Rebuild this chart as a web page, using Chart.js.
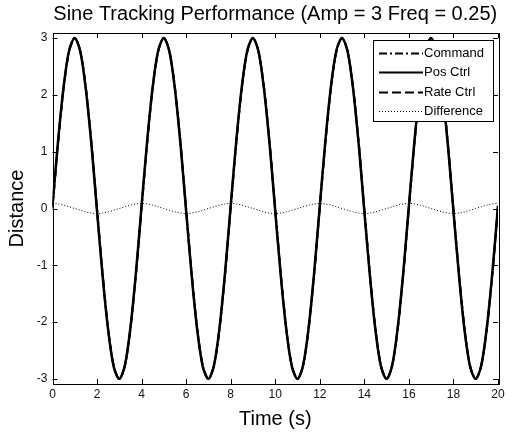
<!DOCTYPE html>
<html>
<head>
<meta charset="utf-8">
<script src="https://cdn.jsdelivr.net/npm/chart.js@4.4.1/dist/chart.umd.min.js"></script>
<style>
  html, body { margin: 0; padding: 0; background: #fff; }
  #wrap { width: 506px; height: 433px; }
</style>
</head>
<body>
<div id="wrap"><canvas id="c" width="506" height="433"></canvas></div>
<script>
// Sample times (s)
const time = [
  0, 0.25, 0.5, 0.75, 1, 1.25, 1.5, 1.75, 2, 2.25, 2.5, 2.75, 3, 3.25, 3.5, 3.75,
  4, 4.25, 4.5, 4.75, 5, 5.25, 5.5, 5.75, 6, 6.25, 6.5, 6.75, 7, 7.25, 7.5, 7.75,
  8, 8.25, 8.5, 8.75, 9, 9.25, 9.5, 9.75, 10, 10.25, 10.5, 10.75, 11, 11.25, 11.5, 11.75,
  12, 12.25, 12.5, 12.75, 13, 13.25, 13.5, 13.75, 14, 14.25, 14.5, 14.75, 15, 15.25, 15.5, 15.75,
  16, 16.25, 16.5, 16.75, 17, 17.25, 17.5, 17.75, 18, 18.25, 18.5, 18.75, 19, 19.25, 19.5, 19.75,
  20
];

// Commanded position
const command = [
  0, 1.15, 2.12, 2.77, 3, 2.77, 2.12, 1.15, 0, -1.15, -2.12, -2.77, -3, -2.77, -2.12, -1.15,
  0, 1.15, 2.12, 2.77, 3, 2.77, 2.12, 1.15, 0, -1.15, -2.12, -2.77, -3, -2.77, -2.12, -1.15,
  0, 1.15, 2.12, 2.77, 3, 2.77, 2.12, 1.15, 0, -1.15, -2.12, -2.77, -3, -2.77, -2.12, -1.15,
  0, 1.15, 2.12, 2.77, 3, 2.77, 2.12, 1.15, 0, -1.15, -2.12, -2.77, -3, -2.77, -2.12, -1.15,
  0, 1.15, 2.12, 2.77, 3, 2.77, 2.12, 1.15, 0, -1.15, -2.12, -2.77, -3, -2.77, -2.12, -1.15,
  0
];

// Position controller response
const posCtrl = [
  0.05, 1.19, 2.15, 2.79, 3, 2.76, 2.09, 1.11, -0.05, -1.19, -2.15, -2.79, -3, -2.76, -2.09, -1.11,
  0.05, 1.19, 2.15, 2.79, 3, 2.76, 2.09, 1.11, -0.05, -1.19, -2.15, -2.79, -3, -2.76, -2.09, -1.11,
  0.05, 1.19, 2.15, 2.79, 3, 2.76, 2.09, 1.11, -0.05, -1.19, -2.15, -2.79, -3, -2.76, -2.09, -1.11,
  0.05, 1.19, 2.15, 2.79, 3, 2.76, 2.09, 1.11, -0.05, -1.19, -2.15, -2.79, -3, -2.76, -2.09, -1.11,
  0.05, 1.19, 2.15, 2.79, 3, 2.76, 2.09, 1.11, -0.05, -1.19, -2.15, -2.79, -3, -2.76, -2.09, -1.11,
  0.05
];

// Rate controller response
const rateCtrl = [
  0.03, 1.17, 2.13, 2.78, 3, 2.76, 2.1, 1.13, -0.03, -1.17, -2.13, -2.78, -3, -2.76, -2.1, -1.13,
  0.03, 1.17, 2.13, 2.78, 3, 2.76, 2.1, 1.13, -0.03, -1.17, -2.13, -2.78, -3, -2.76, -2.1, -1.13,
  0.03, 1.17, 2.13, 2.78, 3, 2.76, 2.1, 1.13, -0.03, -1.17, -2.13, -2.78, -3, -2.76, -2.1, -1.13,
  0.03, 1.17, 2.13, 2.78, 3, 2.76, 2.1, 1.13, -0.03, -1.17, -2.13, -2.78, -3, -2.76, -2.1, -1.13,
  0.03, 1.17, 2.13, 2.78, 3, 2.76, 2.1, 1.13, -0.03, -1.17, -2.13, -2.78, -3, -2.76, -2.1, -1.13,
  0.03
];

// Difference between the two controllers
const difference = [
  0.09, 0.08, 0.06, 0.03, 0, -0.03, -0.06, -0.08, -0.09, -0.08, -0.06, -0.03, 0, 0.03, 0.06, 0.08,
  0.09, 0.08, 0.06, 0.03, 0, -0.03, -0.06, -0.08, -0.09, -0.08, -0.06, -0.03, 0, 0.03, 0.06, 0.08,
  0.09, 0.08, 0.06, 0.03, 0, -0.03, -0.06, -0.08, -0.09, -0.08, -0.06, -0.03, 0, 0.03, 0.06, 0.08,
  0.09, 0.08, 0.06, 0.03, 0, -0.03, -0.06, -0.08, -0.09, -0.08, -0.06, -0.03, 0, 0.03, 0.06, 0.08,
  0.09, 0.08, 0.06, 0.03, 0, -0.03, -0.06, -0.08, -0.09, -0.08, -0.06, -0.03, 0, 0.03, 0.06, 0.08,
  0.09
];

const xTicks = [0, 2, 4, 6, 8, 10, 12, 14, 16, 18, 20];
const yTicks = [-3, -2, -1, 0, 1, 2, 3];

const FONT = "'Liberation Sans', Arial, Helvetica, sans-serif";

function pts(ys) { return time.map((t, i) => ({ x: t, y: ys[i] })); }

// Box around the axes with inward tick marks on all four sides
const boxTicks = {
  id: 'boxTicks',
  afterDatasetsDraw(chart) {
    const { ctx, chartArea: a, scales } = chart;
    const len = 5;
    ctx.save();
    ctx.strokeStyle = '#000';
    ctx.lineWidth = 1;
    ctx.beginPath();
    xTicks.forEach(v => {
      const x = Math.round(scales.x.getPixelForValue(v)) + 0.5;
      ctx.moveTo(x, a.bottom); ctx.lineTo(x, a.bottom - len);
      ctx.moveTo(x, a.top); ctx.lineTo(x, a.top + len);
    });
    yTicks.forEach(v => {
      const y = Math.round(scales.y.getPixelForValue(v)) + 0.5;
      ctx.moveTo(a.left, y); ctx.lineTo(a.left + len, y);
      ctx.moveTo(a.right, y); ctx.lineTo(a.right - len, y);
    });
    ctx.stroke();
    ctx.strokeRect(Math.round(a.left) + 0.5, Math.round(a.top) + 0.5,
      Math.round(a.right - a.left), Math.round(a.bottom - a.top));
    ctx.restore();
  }
};

// MATLAB-style legend in the upper right corner
const boxLegend = {
  id: 'boxLegend',
  afterDraw(chart) {
    const { ctx, chartArea: a } = chart;
    const w = 120, h = 81;
    const x0 = a.right - 5 - w, y0 = a.top + 7;
    ctx.save();
    ctx.fillStyle = '#fff';
    ctx.fillRect(x0, y0, w, h);
    ctx.strokeStyle = '#000';
    ctx.lineWidth = 1;
    ctx.strokeRect(Math.round(x0) + 0.5, Math.round(y0) + 0.5, w, h);
    ctx.font = '13px ' + FONT;
    ctx.textBaseline = 'middle';
    ctx.fillStyle = '#000';
    chart.data.datasets.forEach((ds, i) => {
      const y = Math.round(y0 + 13 + i * 19.3) + 0.5;
      ctx.beginPath();
      ctx.setLineDash(ds.legendDash || []);
      ctx.lineWidth = ds.legendWidth;
      ctx.moveTo(x0 + 6, y);
      ctx.lineTo(x0 + 50, y);
      ctx.stroke();
      ctx.setLineDash([]);
      ctx.fillText(ds.label, x0 + 51, y);
    });
    ctx.restore();
  }
};

new Chart(document.getElementById('c'), {
  type: 'line',
  data: {
    datasets: [
      { label: 'Command', data: pts(command), borderColor: '#000', borderWidth: 2,
        borderDash: [8, 3, 2, 3], legendDash: [8, 3, 2, 3], legendWidth: 2 },
      { label: 'Pos Ctrl', data: pts(posCtrl), borderColor: '#000', borderWidth: 2.5,
        legendDash: [], legendWidth: 2 },
      { label: 'Rate Ctrl', data: pts(rateCtrl), borderColor: '#000', borderWidth: 2,
        borderDash: [9, 4], legendDash: [9, 4], legendWidth: 2 },
      { label: 'Difference', data: pts(difference), borderColor: '#000', borderWidth: 1,
        borderDash: [1, 2], legendDash: [1, 2], legendWidth: 1 }
    ]
  },
  options: {
    responsive: false,
    animation: false,
    events: [],
    layout: { padding: { left: 2, right: 8, top: 0, bottom: 0 } },
    elements: { point: { radius: 0 }, line: { tension: 0.3, fill: false, borderCapStyle: 'butt' } },
    plugins: {
      legend: { display: false },
      tooltip: { enabled: false },
      title: {
        display: true,
        fullSize: false,
        text: 'Sine Tracking Performance (Amp = 3 Freq = 0.25)',
        color: '#000',
        font: { family: FONT, size: 20, weight: 'normal' },
        padding: { top: 2.5, bottom: 6.5 }
      }
    },
    scales: {
      x: {
        type: 'linear', min: 0, max: 20,
        grid: { display: false, drawTicks: false },
        border: { display: false },
        afterBuildTicks: s => { s.ticks = xTicks.map(v => ({ value: v })); },
        afterFit: s => { s.height = 49; s.paddingLeft = 0; s.paddingRight = 0; },
        ticks: { color: '#111', font: { family: FONT, size: 12 }, padding: 3, maxRotation: 0 },
        title: { display: true, text: 'Time (s)', color: '#000',
          font: { family: FONT, size: 20 }, padding: { top: 0, bottom: 1.5 } }
      },
      y: {
        type: 'linear', min: -3.09, max: 3.09,
        grid: { display: false, drawTicks: false },
        border: { display: false },
        afterBuildTicks: s => { s.ticks = yTicks.map(v => ({ value: v })); },
        afterFit: s => { s.width = 50.5; s.paddingTop = 0; s.paddingBottom = 0; },
        ticks: { color: '#111', font: { family: FONT, size: 12 }, padding: 5 },
        title: { display: true, text: 'Distance', color: '#000',
          font: { family: FONT, size: 20 }, padding: { top: 3.5, bottom: 0 } }
      }
    }
  },
  plugins: [boxTicks, boxLegend]
});
</script>
</body>
</html>
